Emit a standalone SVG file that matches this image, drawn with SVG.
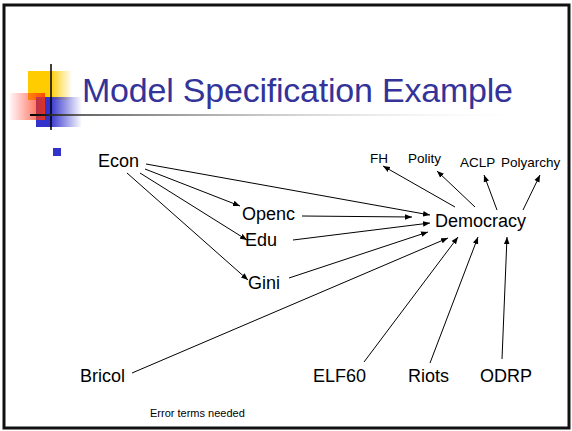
<svg xmlns="http://www.w3.org/2000/svg" width="572" height="431" viewBox="0 0 572 431">
<defs>
<linearGradient id="gy" x1="0" y1="0" x2="1" y2="0"><stop offset="0" stop-color="#FFCC00"/><stop offset="0.5" stop-color="#FFCC00"/><stop offset="1" stop-color="#FFCC00" stop-opacity="0"/></linearGradient>
<linearGradient id="gb" x1="0" y1="0" x2="1" y2="0"><stop offset="0" stop-color="#3333CC"/><stop offset="0.3" stop-color="#3333CC"/><stop offset="1" stop-color="#3333CC" stop-opacity="0"/></linearGradient>
<linearGradient id="gr" x1="0" y1="0" x2="1" y2="0"><stop offset="0" stop-color="#FF3333" stop-opacity="0.05"/><stop offset="1" stop-color="#FF3300" stop-opacity="0.85"/></linearGradient>
<linearGradient id="gl" x1="0" y1="0" x2="1" y2="0"><stop offset="0" stop-color="#000"/><stop offset="0.1" stop-color="#666"/><stop offset="1" stop-color="#fff" stop-opacity="0"/></linearGradient>
<marker id="ah" viewBox="0 0 10 10" refX="10" refY="5" markerWidth="7" markerHeight="7" markerUnits="userSpaceOnUse" orient="auto"><path d="M0,1 L10,5 L0,9 z" fill="#000"/></marker>
</defs>
<style>
.n{font-family:"Liberation Sans",Arial,sans-serif;font-size:18px;fill:#000}
.s{font-family:"Liberation Sans",Arial,sans-serif;font-size:13.5px;fill:#000}
.c line{stroke:#000;stroke-width:1;marker-end:url(#ah)}
</style>
<rect x="0" y="0" width="572" height="431" fill="#fff"/>
<rect x="4" y="5" width="565" height="423" fill="none" stroke="#111" stroke-width="3"/>
<g id="deco">
<rect x="28" y="71" width="44" height="29" fill="url(#gy)"/>
<rect x="36" y="97" width="46" height="30" fill="url(#gb)"/>
<rect x="10" y="93" width="35" height="27" fill="url(#gr)"/>
<line x1="51" y1="64" x2="51" y2="130" stroke="#000" stroke-width="1.5"/>
<rect x="30" y="114" width="510" height="2" fill="url(#gl)"/>
<rect x="53" y="148" width="8" height="8" fill="#3333CC"/>
</g>
<text id="title" x="82" y="102" font-family="'Liberation Sans',Arial,sans-serif" font-size="34" fill="#333399" textLength="431">Model Specification Example</text>
<g class="c" id="connectors">
<line x1="145" y1="169" x2="240" y2="206"/>
<line x1="140" y1="173" x2="247" y2="240"/>
<line x1="127" y1="173" x2="248" y2="280"/>
<line x1="146" y1="164" x2="430" y2="215"/>
<line x1="302" y1="216" x2="412" y2="217"/>
<line x1="293" y1="240" x2="430" y2="223"/>
<line x1="289" y1="278" x2="428" y2="232"/>
<line x1="132" y1="373" x2="448" y2="238"/>
<line x1="364" y1="362" x2="458" y2="237"/>
<line x1="430" y1="363" x2="478" y2="237"/>
<line x1="502" y1="359" x2="507" y2="237"/>
<line x1="455" y1="207" x2="383" y2="166"/>
<line x1="475" y1="207" x2="437" y2="171"/>
<line x1="497" y1="210" x2="484" y2="175"/>
<line x1="523" y1="210" x2="540" y2="175"/>
</g>
<g id="econ"><text class="n" x="98" y="167">Econ</text></g>
<g id="openc"><text class="n" x="242" y="220">Openc</text></g>
<g id="edu"><text class="n" x="245" y="246">Edu</text></g>
<g id="gini"><text class="n" x="248" y="289">Gini</text></g>
<g id="democracy"><text class="n" x="435" y="227">Democracy</text></g>
<g id="fh"><text class="s" x="370" y="163">FH</text></g>
<g id="polity"><text class="s" x="408" y="163">Polity</text></g>
<g id="aclp"><text class="s" x="460" y="167">ACLP</text></g>
<g id="polyarchy"><text class="s" x="501" y="167">Polyarchy</text></g>
<g id="bricol"><text class="n" x="80" y="382">Bricol</text></g>
<g id="elf60"><text class="n" x="313" y="382">ELF60</text></g>
<g id="riots"><text class="n" x="408" y="382">Riots</text></g>
<g id="odrp"><text class="n" x="480" y="382">ODRP</text></g>
<text x="150" y="417" font-family="'Liberation Sans',Arial,sans-serif" font-size="11" fill="#000">Error terms needed</text>
</svg>
